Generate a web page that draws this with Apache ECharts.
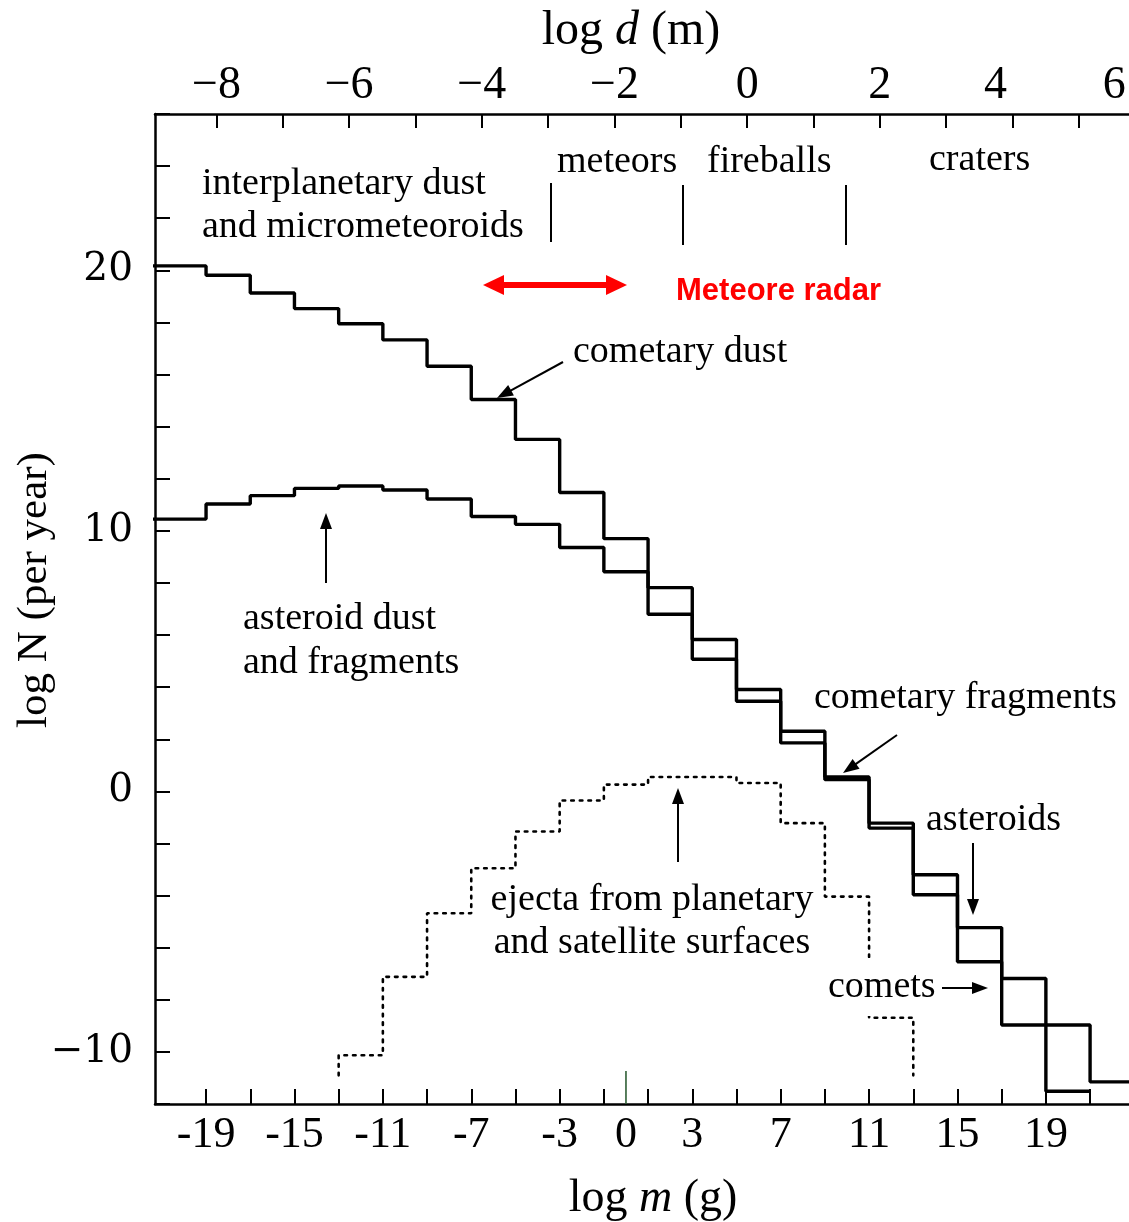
<!DOCTYPE html>
<html>
<head>
<meta charset="utf-8">
<script src="https://cdn.jsdelivr.net/npm/echarts@6/dist/echarts.min.js"></script>
<style>
html,body{margin:0;padding:0;background:#fff;}
#chart{width:1129px;height:1222px;}
</style>
</head>
<body>
<div id="chart"></div>
<script>
// ---- data ----
// histogram bins are 2 units of log m wide; each entry is a bin's lower edge
const massBinStarts = [-21,-19,-17,-15,-13,-11,-9,-7,-5,-3,-1,1,3,5,7,9,11,13,15,17,19,21];
const cometaryDust  = [20.17,19.81,19.13,18.53,17.95,17.33,16.32,15.04,13.51,11.47,9.70,7.82,5.83,3.91,2.31,0.55,-1.22,-3.20,-5.23,-7.18,-8.97,-11.15];
const asteroidDust  = [10.45,11.03,11.35,11.63,11.72,11.57,11.22,10.55,10.25,9.36,8.43,6.80,5.07,3.46,1.86,0.45,-1.41,-3.97,-6.54,-8.97,-11.51];
const ejectaBinStarts = [-13,-11,-9,-7,-5,-3,-1,1,3,5,7,9,11];
const ejecta          = [-10.13,-7.12,-4.68,-2.95,-1.54,-0.35,0.26,0.55,0.55,0.32,-1.22,-4.04,-8.69];
const ejectaEndLevel  = -10.9;
const binWidth = 2;

const massTicks  = [-19,-17,-15,-13,-11,-9,-7,-5,-3,-1,1,3,5,7,9,11,13,15,17,19,21];
const massLabels = [-19,-15,-11,-7,-3,0,3,7,11,15,19];
const sizeTicks  = [-8,-7,-6,-5,-4,-3,-2,-1,0,1,2,3,4,5,6];
const sizeLabels = [-8,-6,-4,-2,0,2,4,6];
const greenTick  = [0];

// ---- axis extents ----
const X_MIN = -21.31, X_MAX = 23.53;   // log m (g)
const D_MIN = -8.927, D_MAX = 6.013;   // log d (m)
const Y_MIN = -12, Y_MAX = 26;         // log N

function steps(starts, vals, extendLeft, extendRight, endLevel) {
  const pts = [];
  for (let i = 0; i < vals.length; i++) {
    let a = starts[i], b = starts[i] + binWidth;
    if (i === 0 && extendLeft) a = X_MIN - 1;
    if (i === vals.length - 1 && extendRight) b = X_MAX + 1;
    if (i === 0 && endLevel !== undefined) pts.push([a, endLevel]);
    pts.push([a, vals[i]]);
    pts.push([b, vals[i]]);
    if (i === vals.length - 1 && endLevel !== undefined) pts.push([b, endLevel]);
  }
  return pts;
}

const SERIF = '"Liberation Serif", "Times New Roman", serif';
const minus = v => (v < 0 ? '\u2212' + Math.abs(v) : String(v));

function arrow(x1, y1, x2, y2, color, lw, L, W) {
  const a = Math.atan2(y2 - y1, x2 - x1), c = Math.cos(a), s = Math.sin(a);
  const bx = x2 - L * c, by = y2 - L * s, px = -s * W, py = c * W;
  return [
    {type: 'line', z: 50, shape: {x1: x1, y1: y1, x2: bx + c, y2: by + s}, style: {stroke: color, lineWidth: lw}},
    {type: 'polygon', z: 50, shape: {points: [[x2, y2], [bx + px, by + py], [bx - px, by - py]]}, style: {fill: color}}
  ];
}
function txt(t, x, y, size, opts) {
  opts = opts || {};
  return {type: 'text', z: opts.z || 50, style: Object.assign({
    text: t, x: x, y: y, fill: opts.color || '#000',
    font: (opts.weight || 'normal') + ' ' + size + 'px ' + (opts.family || SERIF),
    align: opts.align || 'left', verticalAlign: 'middle'
  }, opts.extra || {})};
}
function vline(x, y1, y2) {
  return {type: 'line', z: 50, shape: {x1: x, y1: y1, x2: x, y2: y2}, style: {stroke: '#000', lineWidth: 2}};
}

const graphics = [
  // titles
  {type: 'text', z: 50, style: {text: 'log {i|d} (m)', x: 631, y: 31, fill: '#000', font: '48px ' + SERIF,
    align: 'center', verticalAlign: 'middle', rich: {i: {fontStyle: 'italic', fontSize: 48, fontFamily: SERIF}}}},
  {type: 'text', z: 50, style: {text: 'log {i|m} (g)', x: 653, y: 1199, fill: '#000', font: '46px ' + SERIF,
    align: 'center', verticalAlign: 'middle', rich: {i: {fontStyle: 'italic', fontSize: 46, fontFamily: SERIF}}}},
  {type: 'text', z: 50, x: 35, y: 590, rotation: Math.PI / 2, style: {text: 'log N (per year)', x: 0, y: 0, fill: '#000',
    font: '43px ' + SERIF, align: 'center', verticalAlign: 'middle'}},
  // region labels
  txt('interplanetary dust', 202, 184, 38),
  txt('and micrometeoroids', 202, 227, 38),
  txt('meteors', 557, 162, 38),
  txt('fireballs', 707, 162, 38),
  txt('craters', 929, 160, 38),
  vline(551, 183, 242), vline(683, 185, 245), vline(846, 185, 245),
  // meteor radar range
  {type: 'line', z: 50, shape: {x1: 500, y1: 285, x2: 610, y2: 285}, style: {stroke: '#ff0000', lineWidth: 6}},
  {type: 'polygon', z: 50, shape: {points: [[483, 285], [504, 275], [504, 295]]}, style: {fill: '#ff0000'}},
  {type: 'polygon', z: 50, shape: {points: [[627, 285], [606, 275], [606, 295]]}, style: {fill: '#ff0000'}},
  txt('Meteore radar', 676, 291, 31, {color: '#ff0000', weight: 'bold', family: '"Liberation Sans", Arial, sans-serif'}),
  // curve labels
  txt('cometary dust', 573, 352, 38),
  txt('asteroid dust', 243, 619, 38),
  txt('and fragments', 243, 663, 38),
  txt('cometary fragments', 814, 698, 38),
  txt('asteroids', 926, 820, 38),
  txt('ejecta from planetary', 652, 900, 38, {align: 'center'}),
  txt('and satellite surfaces', 652, 943, 38, {align: 'center'}),
  txt('comets', 826, 987, 38, {z: 60, extra: {backgroundColor: '#fff', padding: [10, 2, 10, 2]}})
]
  .concat(arrow(563, 362, 497, 398, '#000', 2, 16, 6))
  .concat(arrow(326, 583, 326, 513, '#000', 2, 16, 6))
  .concat(arrow(897, 735, 843, 773, '#000', 2, 16, 6))
  .concat(arrow(973, 843, 973, 915, '#000', 2, 16, 6))
  .concat(arrow(678, 862, 678, 788, '#000', 2, 16, 6))
  .concat(arrow(942, 988, 988, 988, '#000', 2, 16, 6));

const axisLineStyle = {color: '#000', width: 2.5};
const chart = echarts.init(document.getElementById('chart'), null, {renderer: 'canvas'});
chart.setOption({
  animation: false,
  backgroundColor: '#fff',
  grid: {left: 155, top: 114, right: -17, bottom: 118, containLabel: false, outerBoundsMode: 'none'},
  xAxis: [
    {
      type: 'value', position: 'bottom', min: X_MIN, max: X_MAX,
      axisLine: {show: true, onZero: false, lineStyle: axisLineStyle},
      axisTick: {show: true, inside: true, length: 15, customValues: massTicks, lineStyle: {color: '#000', width: 2}},
      axisLabel: {show: true, customValues: massLabels, margin: 9, color: '#000', fontSize: 44, fontFamily: SERIF,
        formatter: v => String(v)},
      splitLine: {show: false}
    },
    {
      type: 'value', position: 'top', min: D_MIN, max: D_MAX,
      axisLine: {show: true, onZero: false, lineStyle: axisLineStyle},
      axisTick: {show: true, inside: true, length: 14, customValues: sizeTicks, lineStyle: {color: '#000', width: 2}},
      axisLabel: {show: true, customValues: sizeLabels, margin: 5, color: '#000', fontSize: 46, fontFamily: SERIF,
        formatter: v => (v === 4 ? '{s4|4}' : v === 6 ? '{s6|6}' : minus(v)),
        rich: {
          s4: {padding: [0, 34, 0, 0], fontSize: 46, fontFamily: SERIF, color: '#000'},
          s6: {padding: [0, 62, 0, 0], fontSize: 46, fontFamily: SERIF, color: '#000'}
        }},
      splitLine: {show: false}
    }
  ],
  yAxis: {
    type: 'value', min: Y_MIN, max: Y_MAX, interval: 2,
    axisLine: {show: true, onZero: false, lineStyle: axisLineStyle},
    axisTick: {show: true, inside: true, length: 15, lineStyle: {color: '#000', width: 2}},
    axisLabel: {margin: 22, color: '#000', fontSize: 39, fontFamily: '"DejaVu Serif", serif',
      formatter: v => (v % 10 === 0 ? minus(v) : '')},
    splitLine: {show: false}
  },
  series: [
    {name: 'cometary dust', type: 'line', xAxisIndex: 0, data: steps(massBinStarts, cometaryDust, true, true),
      symbol: 'none', lineStyle: {color: '#000', width: 3.4}, clip: true, z: 3},
    {name: 'asteroid dust', type: 'line', xAxisIndex: 0, data: steps(massBinStarts, asteroidDust, true, false),
      symbol: 'none', lineStyle: {color: '#000', width: 3.4}, clip: true, z: 3},
    {name: 'ejecta', type: 'line', xAxisIndex: 0, data: steps(ejectaBinStarts, ejecta, false, false, ejectaEndLevel),
      symbol: 'none', lineStyle: {color: '#000', width: 2.6, type: [2.6, 6], cap: 'round'}, clip: true, z: 3},
    {name: 'zero tick', type: 'custom', xAxisIndex: 0, data: greenTick.map(v => [v, Y_MIN]), z: 4,
      renderItem: (params, api) => {
        const p = api.coord([api.value(0), api.value(1)]);
        return {type: 'line', shape: {x1: p[0], y1: p[1], x2: p[0], y2: p[1] - 33},
          style: {stroke: '#2f5f35', lineWidth: 1.6}};
      }}
  ],
  graphic: graphics
});
</script>
</body>
</html>
